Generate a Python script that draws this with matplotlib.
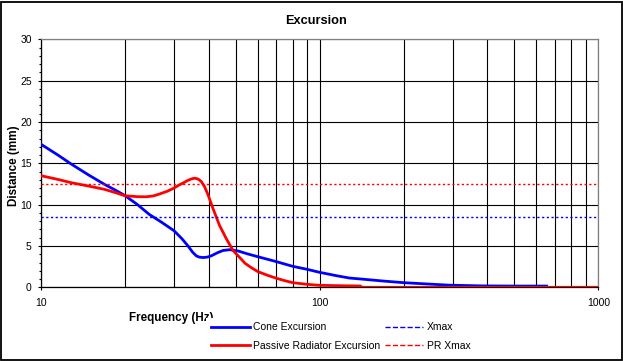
import matplotlib
matplotlib.use("Agg")
import matplotlib.pyplot as plt
from matplotlib.lines import Line2D
from matplotlib.patches import Rectangle
from matplotlib.ticker import FixedLocator, NullFormatter

plt.rcParams['font.family'] = ['Liberation Sans', 'DejaVu Sans']

# ---- data ----
cone_freq = [10, 11.5, 12.85, 14.8, 16.9, 18.5, 20, 22.2, 24.5, 27, 30, 32, 33.7, 35,
             36.1, 37, 38.1, 39.5, 40.8, 43.1, 45, 47.5, 50.9, 55, 60, 70, 80, 90,
             100, 115, 128, 141, 170, 200, 250, 291, 383, 500, 652]
cone_exc = [17.3, 16.0, 14.9, 13.6, 12.45, 11.75, 11.1, 10.0, 8.8, 7.9, 6.85, 5.9, 5.0, 4.25,
            3.8, 3.65, 3.6, 3.65, 3.8, 4.2, 4.45, 4.55, 4.4, 4.05, 3.7, 3.1, 2.54, 2.18,
            1.81, 1.4, 1.12, 1.0, 0.75, 0.56, 0.38, 0.26, 0.17, 0.15, 0.15]

pr_freq = [10, 11.5, 12.85, 14.8, 16.9, 18.5, 20, 22.2, 23.9, 25.3, 26.7, 28.3, 30, 31.2,
           32.3, 33.5, 34.6, 35.6, 36.6, 37.6, 38.6, 39.7, 41.4, 43.7, 46.2, 48.8, 50,
           52, 54, 57, 60, 65, 70, 75, 80, 90, 100, 120, 140, 142, 1000]
pr_exc = [13.5, 13.05, 12.65, 12.25, 11.85, 11.45, 11.08, 10.96, 10.95, 11.05, 11.3, 11.6, 12.0, 12.35,
          12.6, 12.9, 13.1, 13.2, 13.1, 12.8, 12.2, 11.25, 9.55, 7.5, 5.9, 4.5, 4.1,
          3.5, 2.9, 2.35, 1.9, 1.45, 1.09, 0.8, 0.56, 0.36, 0.24, 0.19, 0.16, 0.0, 0.0]

xmax_value = 8.5
pr_xmax_value = 12.5
x_limits = [10, 1000]

x_major_ticks = [10, 100, 1000]
x_major_labels = ["10", "100", "1000"]
x_minor_ticks = [20, 30, 40, 50, 60, 70, 80, 90, 200, 300, 400, 500, 600, 700, 800, 900]
y_ticks = [0, 5, 10, 15, 20, 25, 30]
y_tick_labels = ["0", "5", "10", "15", "20", "25", "30"]

title = "Excursion"
xlabel = "Frequency (Hz)"
ylabel = "Distance (mm)"
legend_labels = ["Cone Excursion", "Passive Radiator Excursion", "Xmax", "PR Xmax"]

# ---- figure ----
W, H = 623, 361
fig = plt.figure(figsize=(W / 100, H / 100), dpi=100)
fig.patch.set_facecolor('white')

def fx(px):
    return px / W

def fy(py):
    return 1 - py / H

ax_l, ax_r, ax_t, ax_b = 41, 598.3, 39.3, 287.3
ax = fig.add_axes([fx(ax_l), fy(ax_b), (ax_r - ax_l) / W, (ax_b - ax_t) / H])
ax.set_xscale('log')
ax.set_xlim(*x_limits)
ax.set_ylim(0, 30)

blue = '#0000FF'
red = '#FF0000'
dash = (0, (1.6, 1.8))

l_cone, = ax.plot(cone_freq, cone_exc, color=blue, lw=2.0, zorder=3)
l_pr, = ax.plot(pr_freq, pr_exc, color=red, lw=2.0, zorder=3)
l_xmax, = ax.plot(x_limits, [xmax_value, xmax_value], color=blue, lw=1.0, linestyle=dash, zorder=3)
l_prx, = ax.plot(x_limits, [pr_xmax_value, pr_xmax_value], color=red, lw=1.0, linestyle=dash, zorder=3)

# ticks
ax.xaxis.set_major_locator(FixedLocator(x_major_ticks))
ax.set_xticklabels(x_major_labels)
ax.xaxis.set_minor_locator(FixedLocator(x_minor_ticks))
ax.xaxis.set_minor_formatter(NullFormatter())
ax.set_yticks(y_ticks)
ax.set_yticklabels(y_tick_labels)
ax.yaxis.set_minor_locator(FixedLocator([v for v in range(0, 31) if v % 5]))

ax.tick_params(axis='both', which='major', direction='out', length=2.4, width=0.8,
               color='black', labelsize=7.5, labelcolor='black')
ax.tick_params(axis='x', which='major', pad=5)
ax.tick_params(axis='y', which='major', pad=4.3)
ax.tick_params(axis='x', which='minor', length=0)
ax.tick_params(axis='y', which='minor', direction='out', length=1.8, width=0.8, color='black')

ax.set_axisbelow(True)
ax.grid(True, which='both', axis='x', color='black', lw=0.8)
ax.grid(True, which='major', axis='y', color='black', lw=0.8)

for s in ['top', 'right']:
    ax.spines[s].set_color('#808080')
    ax.spines[s].set_linewidth(0.9)
for s in ['left', 'bottom']:
    ax.spines[s].set_color('black')
    ax.spines[s].set_linewidth(0.9)

# titles / labels
fig.text(fx(316), fy(21), title, ha='center', va='center', fontsize=9.2, fontweight='bold')
fig.text(fx(129), fy(321.5), xlabel, ha='left', va='baseline', fontsize=8.4,
         fontweight='bold', zorder=3)
fig.text(fx(14.5), fy(166), ylabel, ha='center', va='center', rotation=90,
         fontsize=8.4, fontweight='bold')

# legend area (white background that overlaps the axis title as in the reference)
fig.patches.append(Rectangle((fx(206), fy(357)), 230 / W, 39 / H, transform=fig.transFigure,
                             facecolor='white', edgecolor='none', zorder=4))

fs = 7.5
em = fs * 100 / 72
entries = [
    (l_cone, legend_labels[0], 211, 327.3, 39, 3.3),
    (l_pr, legend_labels[1], 211, 346.0, 39, 3.3),
    (l_xmax, legend_labels[2], 385, 327.3, 38, 4.0),
    (l_prx, legend_labels[3], 385, 346.0, 38, 4.0),
]
for handle, label, x0, yc, hl, pad in entries:
    proxy = Line2D([], [], color=handle.get_color(), lw=handle.get_linewidth(),
                   linestyle=handle.get_linestyle())
    leg = fig.legend([proxy], [label], loc='center left',
                     bbox_to_anchor=(fx(x0), fy(yc)), bbox_transform=fig.transFigure,
                     frameon=False, fontsize=fs, borderpad=0, borderaxespad=0,
                     handlelength=hl / em, handletextpad=pad / em)
    leg.set_zorder(5)

# outer chart border
fig.patches.append(Rectangle((0.5 / W, 1.5 / H), (W - 2) / W, (H - 3) / H,
                             transform=fig.transFigure, facecolor='none',
                             edgecolor='black', lw=1.3, zorder=10))

fig.savefig('out.png', dpi=100)
